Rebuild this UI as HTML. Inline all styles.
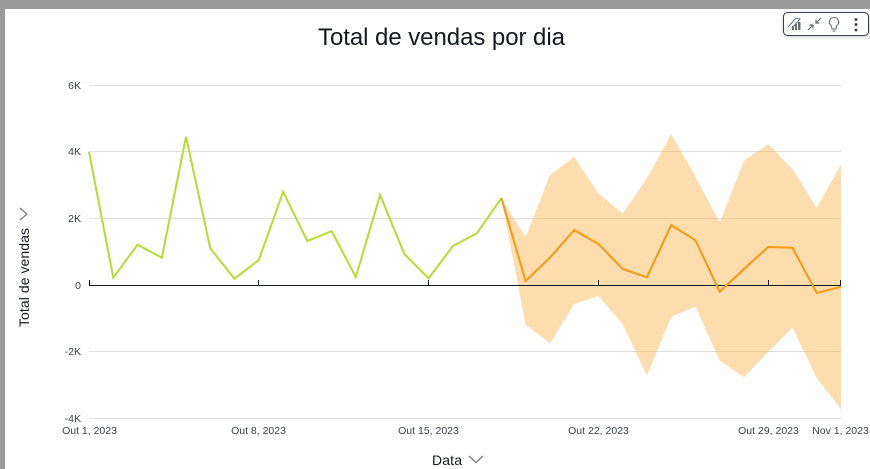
<!DOCTYPE html>
<html lang="pt">
<head>
<meta charset="utf-8">
<title>Total de vendas por dia</title>
<style>
html,body{margin:0;padding:0;background:#fff;}
body{width:870px;height:469px;overflow:hidden;position:relative;font-family:"Liberation Sans",sans-serif;}
svg{position:absolute;left:0;top:0;display:block;}
text{font-family:"Liberation Sans",sans-serif;}
</style>
</head>
<body>
<svg id="chart" width="870" height="469" viewBox="0 0 870 469">
  <defs>
    <filter id="toolbar-blur" x="-20%" y="-40%" width="140%" height="200%"><feGaussianBlur stdDeviation="2"/></filter>
  </defs>
  <rect x="0" y="0" width="870" height="9" fill="#9a9a9a"/>
  <rect x="0" y="0" width="5" height="469" fill="#9a9a9a"/>
  <text x="441.5" y="45" font-size="24" text-anchor="middle" fill="#16191f" textLength="247" lengthAdjust="spacing">Total de vendas por dia</text>
  <g id="grid"></g>
  <g id="y-labels"></g>
  <path id="band" fill="#fbb95d" fill-opacity="0.5"></path>
  <line id="zero-line" stroke="#16191f" stroke-width="1"></line>
  <g id="ticks"></g>
  <g id="x-labels"></g>
  <path id="actual-line" fill="none" stroke="#b4dc32" stroke-width="2" stroke-linejoin="miter"></path>
  <path id="forecast-line" fill="none" stroke="#f5990f" stroke-width="2" stroke-linejoin="miter"></path>

  <text transform="translate(29,277.5) rotate(-90)" font-size="14" text-anchor="middle" fill="#16191f" textLength="99" lengthAdjust="spacing">Total de vendas</text>
  <path d="M20 208 L27 214 L20 220" fill="none" stroke="#7d7d7d" stroke-width="1.3"/>
  <text x="447" y="465" font-size="14" text-anchor="middle" fill="#16191f" textLength="30" lengthAdjust="spacing">Data</text>
  <path d="M469 456 L476 462.5 L483 456" fill="none" stroke="#7d7d7d" stroke-width="1.3"/>

  <g>
    <rect x="784" y="14" width="85" height="22" rx="4" fill="#000" fill-opacity="0.3" filter="url(#toolbar-blur)"/>
    <rect x="783.5" y="12.5" width="85" height="23" rx="4" fill="#fff" stroke="#3a3f45" stroke-width="1"/>
    <g stroke="#6a6f75" fill="none">
      <path d="M788 27 L796 18 L800 19 L792 28" stroke-width="1"/>
      <rect x="792" y="26" width="2" height="4" fill="#6a6f75" stroke="none"/>
      <rect x="795" y="24" width="2" height="6" fill="#6a6f75" stroke="none"/>
      <rect x="798" y="22" width="2.5" height="8" fill="#6a6f75" stroke="none"/>
    </g>
    <g stroke="#6a6f75" fill="none" stroke-width="1.2">
      <path d="M808 30 L813 25 M809.5 25 L813 25 L813 28.5"/>
      <path d="M821 18 L816 23 M816 19.5 L816 23 L819.5 23"/>
    </g>
    <g stroke="#6a6f75" fill="none" stroke-width="1.1">
      <path d="M831.5 26 C828 23.5 829 17.5 834 17.5 C839 17.5 840 23.5 836.5 26 L836 29 L832 29 Z"/>
      <path d="M832.5 31 L835.5 31"/>
    </g>
    <g fill="#2b2f33">
      <circle cx="856" cy="19.5" r="1.4"/>
      <circle cx="856" cy="24.5" r="1.4"/>
      <circle cx="856" cy="30" r="1.4"/>
    </g>
  </g>
</svg>
<script>
// Data (values in sales units; days are offsets from Oct 1, 2023)
const actualDays = [0,1,2,3,4,5,6,7,8,9,10,11,12,13,14,15,16,17];
const actualValues = [4000,220,1210,820,4450,1100,190,750,2800,1320,1620,240,2700,930,200,1170,1560,2610];
const forecastDays = [17,18,19,20,21,22,23,24,25,26,27,28,29,30,31];
const forecastValues = [2610,120,820,1650,1230,480,230,1800,1340,-200,480,1140,1120,-240,-50];
const forecastUpper = [2610,1430,3300,3850,2750,2140,3200,4530,3250,1870,3730,4230,3470,2310,3620];
const forecastLower = [2610,-1190,-1750,-570,-330,-1170,-2720,-950,-650,-2270,-2770,-2000,-1280,-2790,-3730];
const yTickValues = [6000,4000,2000,0,-2000,-4000];
const yTickLabels = ['6K','4K','2K','0','-2K','-4K'];
const xTickDays = [0,7,14,21,28,31];
const xTickLabels = ['Out 1, 2023','Out 8, 2023','Out 15, 2023','Out 22, 2023','Out 29, 2023','Nov 1, 2023'];

const NS = 'http://www.w3.org/2000/svg';
const xLeft = 89, xRight = 841, dayMax = 31;
const yZero = 285, pxPerUnit = 33.3 / 1000;
function xScale(d) { return xLeft + (d / dayMax) * (xRight - xLeft); }
function yScale(v) { return yZero - v * pxPerUnit; }
function linePath(days, vals) {
  return days.map(function (d, i) {
    return (i ? 'L' : 'M') + xScale(d).toFixed(1) + ' ' + yScale(vals[i]).toFixed(1);
  }).join(' ');
}

const gridG = document.getElementById('grid');
const yLabelG = document.getElementById('y-labels');
yTickValues.forEach(function (v, i) {
  const y = Math.floor(yScale(v)) + 0.5;
  if (v !== 0) {
    const l = document.createElementNS(NS, 'line');
    l.setAttribute('x1', xLeft);
    l.setAttribute('x2', xRight);
    l.setAttribute('y1', y);
    l.setAttribute('y2', y);
    l.setAttribute('stroke', '#dedede');
    
    
    gridG.appendChild(l);
  }
  const t = document.createElementNS(NS, 'text');
  t.setAttribute('x', 81);
  t.setAttribute('y', y + 3.5);
  t.setAttribute('font-size', '10.5');
  t.setAttribute('text-anchor', 'end');
  t.setAttribute('fill', '#3c4146');
  
  
  t.textContent = yTickLabels[i];
  yLabelG.appendChild(t);
});

const upperPart = forecastDays.map(function (d, i) {
  return (i ? 'L' : 'M') + xScale(d).toFixed(1) + ' ' + yScale(forecastUpper[i]).toFixed(1);
}).join(' ');
let lowerPart = '';
for (let i = forecastDays.length - 1; i >= 0; i--) {
  lowerPart += ' L' + xScale(forecastDays[i]).toFixed(1) + ' ' + yScale(forecastLower[i]).toFixed(1);
}
document.getElementById('band').setAttribute('d', upperPart + lowerPart + ' Z');

const zero = document.getElementById('zero-line');
zero.setAttribute('x1', xLeft);
zero.setAttribute('x2', xRight);
zero.setAttribute('y1', Math.floor(yScale(0)) + 0.5);
zero.setAttribute('y2', Math.floor(yScale(0)) + 0.5);

const tickG = document.getElementById('ticks');
const xLabelG = document.getElementById('x-labels');
xTickDays.forEach(function (d, i) {
  const x = Math.min(Math.floor(xScale(d)) + 0.5, xRight - 0.5);
  const l = document.createElementNS(NS, 'line');
  l.setAttribute('x1', x);
  l.setAttribute('x2', x);
  l.setAttribute('y1', yScale(0) - 5);
  l.setAttribute('y2', yScale(0));
  l.setAttribute('stroke', '#16191f');
  
  
  tickG.appendChild(l);
  const t = document.createElementNS(NS, 'text');
  t.setAttribute('x', x);
  t.setAttribute('y', 434);
  t.setAttribute('font-size', '10.5');
  t.setAttribute('text-anchor', 'middle');
  t.setAttribute('fill', '#3c4146');
  
  
  t.textContent = xTickLabels[i];
  xLabelG.appendChild(t);
});

document.getElementById('actual-line').setAttribute('d', linePath(actualDays, actualValues));
document.getElementById('forecast-line').setAttribute('d', linePath(forecastDays, forecastValues));
</script>
</body>
</html>
